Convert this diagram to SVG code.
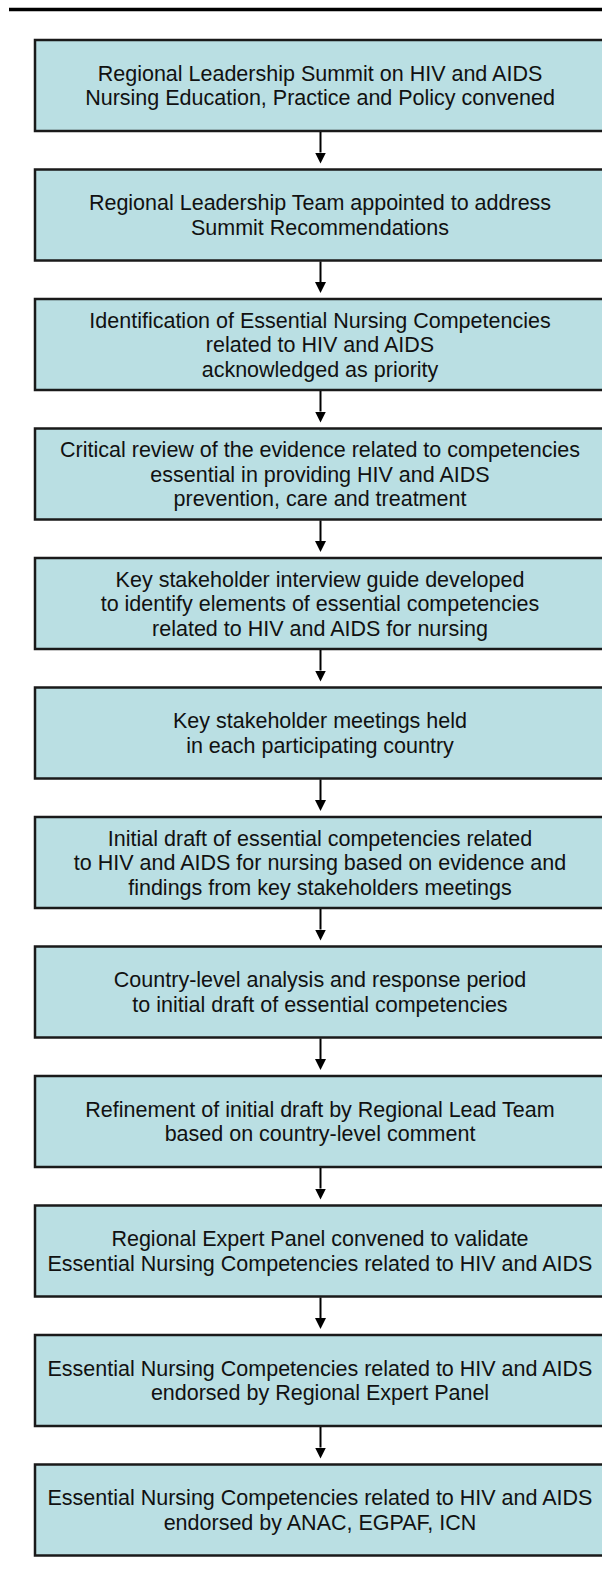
<svg xmlns="http://www.w3.org/2000/svg" width="602" height="1574" viewBox="0 0 602 1574">
<style>
.box{fill:#badfe3;stroke:#1a1a1a;stroke-width:2.5}
.t{font-family:"Liberation Sans",Arial,sans-serif;font-size:21.5px;fill:#111;text-anchor:middle}
.c{stroke:#000;stroke-width:2;fill:none}
</style>
<defs>
<marker id="ah" markerUnits="userSpaceOnUse" markerWidth="12" markerHeight="12" viewBox="0 0 12 12" refX="0" refY="6" orient="auto">
<path d="M0,0.5 L11,6 L0,11.5 Z" fill="#000"/>
</marker>
</defs>
<rect width="602" height="1574" fill="#fff"/>
<line x1="9" y1="9.5" x2="602" y2="9.5" stroke="#000" stroke-width="3.5"/>
<g id="n1"><rect class="box" x="35" y="40" width="580" height="91"/><text class="t" x="320" y="80.75">Regional Leadership Summit on HIV and AIDS</text><text class="t" x="320" y="105.25">Nursing Education, Practice and Policy convened</text></g>
<g id="n2"><rect class="box" x="35" y="169.5" width="580" height="91"/><text class="t" x="320" y="210.25">Regional Leadership Team appointed to address</text><text class="t" x="320" y="234.75">Summit Recommendations</text></g>
<g id="n3"><rect class="box" x="35" y="299" width="580" height="91"/><text class="t" x="320" y="327.5">Identification of Essential Nursing Competencies</text><text class="t" x="320" y="352">related to HIV and AIDS</text><text class="t" x="320" y="376.5">acknowledged as priority</text></g>
<g id="n4"><rect class="box" x="35" y="428.5" width="580" height="91"/><text class="t" x="320" y="457">Critical review of the evidence related to competencies</text><text class="t" x="320" y="481.5">essential in providing HIV and AIDS</text><text class="t" x="320" y="506">prevention, care and treatment</text></g>
<g id="n5"><rect class="box" x="35" y="558" width="580" height="91"/><text class="t" x="320" y="586.5">Key stakeholder interview guide developed</text><text class="t" x="320" y="611">to identify elements of essential competencies</text><text class="t" x="320" y="635.5">related to HIV and AIDS for nursing</text></g>
<g id="n6"><rect class="box" x="35" y="687.5" width="580" height="91"/><text class="t" x="320" y="728.25">Key stakeholder meetings held</text><text class="t" x="320" y="752.75">in each participating country</text></g>
<g id="n7"><rect class="box" x="35" y="817" width="580" height="91"/><text class="t" x="320" y="845.5">Initial draft of essential competencies related</text><text class="t" x="320" y="870">to HIV and AIDS for nursing based on evidence and</text><text class="t" x="320" y="894.5">findings from key stakeholders meetings</text></g>
<g id="n8"><rect class="box" x="35" y="946.5" width="580" height="91"/><text class="t" x="320" y="987.25">Country-level analysis and response period</text><text class="t" x="320" y="1011.75">to initial draft of essential competencies</text></g>
<g id="n9"><rect class="box" x="35" y="1076" width="580" height="91"/><text class="t" x="320" y="1116.75">Refinement of initial draft by Regional Lead Team</text><text class="t" x="320" y="1141.25">based on country-level comment</text></g>
<g id="n10"><rect class="box" x="35" y="1205.5" width="580" height="91"/><text class="t" x="320" y="1246.25">Regional Expert Panel convened to validate</text><text class="t" x="320" y="1270.75">Essential Nursing Competencies related to HIV and AIDS</text></g>
<g id="n11"><rect class="box" x="35" y="1335" width="580" height="91"/><text class="t" x="320" y="1375.75">Essential Nursing Competencies related to HIV and AIDS</text><text class="t" x="320" y="1400.25">endorsed by Regional Expert Panel</text></g>
<g id="n12"><rect class="box" x="35" y="1464.5" width="580" height="91"/><text class="t" x="320" y="1505.25">Essential Nursing Competencies related to HIV and AIDS</text><text class="t" x="320" y="1529.75">endorsed by ANAC, EGPAF, ICN</text></g>
<g id="connectors">
<line class="c" x1="320.5" y1="132" x2="320.5" y2="152.5" marker-end="url(#ah)"/>
<line class="c" x1="320.5" y1="261.5" x2="320.5" y2="282" marker-end="url(#ah)"/>
<line class="c" x1="320.5" y1="391" x2="320.5" y2="411.5" marker-end="url(#ah)"/>
<line class="c" x1="320.5" y1="520.5" x2="320.5" y2="541" marker-end="url(#ah)"/>
<line class="c" x1="320.5" y1="650" x2="320.5" y2="670.5" marker-end="url(#ah)"/>
<line class="c" x1="320.5" y1="779.5" x2="320.5" y2="800" marker-end="url(#ah)"/>
<line class="c" x1="320.5" y1="909" x2="320.5" y2="929.5" marker-end="url(#ah)"/>
<line class="c" x1="320.5" y1="1038.5" x2="320.5" y2="1059" marker-end="url(#ah)"/>
<line class="c" x1="320.5" y1="1168" x2="320.5" y2="1188.5" marker-end="url(#ah)"/>
<line class="c" x1="320.5" y1="1297.5" x2="320.5" y2="1318" marker-end="url(#ah)"/>
<line class="c" x1="320.5" y1="1427" x2="320.5" y2="1447.5" marker-end="url(#ah)"/>
</g>
</svg>
